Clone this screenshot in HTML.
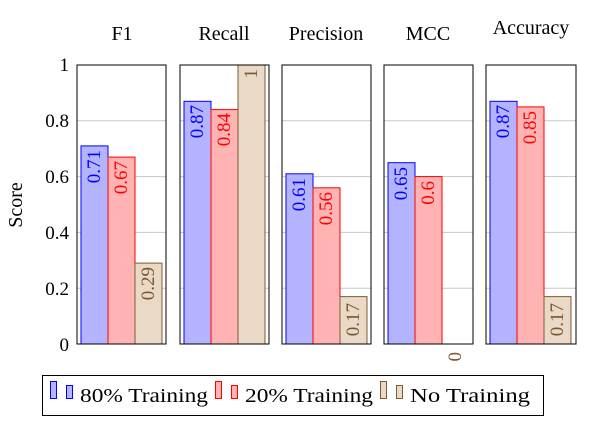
<!DOCTYPE html>
<html><head><meta charset="utf-8"><style>
html,body{margin:0;padding:0;background:#fff;}
svg{display:block;font-family:"Liberation Serif",serif;}
</style></head><body>
<svg width="603" height="424" viewBox="0 0 603 424" xmlns="http://www.w3.org/2000/svg">
<g font-size="20" text-anchor="middle" fill="#000">
<text x="122" y="40">F1</text>
<text x="224" y="40">Recall</text>
<text x="326" y="40">Precision</text>
<text x="428" y="40">MCC</text>
<text x="531" y="34">Accuracy</text>
</g>
<g font-size="19" text-anchor="end" fill="#000">
<text x="69" y="71">1</text>
<text x="69" y="127">0.8</text>
<text x="69" y="183">0.6</text>
<text x="69" y="239">0.4</text>
<text x="69" y="295">0.2</text>
<text x="69" y="351">0</text>
</g>
<text font-size="20" text-anchor="middle" transform="translate(22,205) rotate(-90)">Score</text>

<g stroke="#c8c8c8" stroke-width="1">
<path d="M77 288.2H166M77 232.4H166M77 176.6H166M77 120.8H166"/>
<path d="M180 288.2H269M180 232.4H269M180 176.6H269M180 120.8H269"/>
<path d="M282 288.2H371M282 232.4H371M282 176.6H371M282 120.8H371"/>
<path d="M384 288.2H473M384 232.4H473M384 176.6H473M384 120.8H473"/>
<path d="M486 288.2H576M486 232.4H576M486 176.6H576M486 120.8H576"/>
</g>

<g stroke-width="1">
<rect x="81" y="145.9" width="27" height="198.1" fill="#b3b3ff" stroke="#0000ff"/>
<rect x="108" y="157.1" width="27" height="186.9" fill="#ffb3b3" stroke="#ff0000"/>
<rect x="135" y="263.1" width="27" height="80.9" fill="#e9d9c6" stroke="#7f5c33"/>
<rect x="184" y="101.3" width="27" height="242.7" fill="#b3b3ff" stroke="#0000ff"/>
<rect x="211" y="109.6" width="27" height="234.4" fill="#ffb3b3" stroke="#ff0000"/>
<rect x="238" y="65" width="27" height="279" fill="#e9d9c6" stroke="#7f5c33"/>
<rect x="286" y="173.8" width="27" height="170.2" fill="#b3b3ff" stroke="#0000ff"/>
<rect x="313" y="187.8" width="27" height="156.2" fill="#ffb3b3" stroke="#ff0000"/>
<rect x="340" y="296.6" width="27" height="47.4" fill="#e9d9c6" stroke="#7f5c33"/>
<rect x="388" y="162.7" width="27" height="181.3" fill="#b3b3ff" stroke="#0000ff"/>
<rect x="415" y="176.6" width="27" height="167.4" fill="#ffb3b3" stroke="#ff0000"/>
<line x1="442" x2="469" y1="344" y2="344" stroke="#7f5c33"/>
<rect x="490" y="101.3" width="27" height="242.7" fill="#b3b3ff" stroke="#0000ff"/>
<rect x="517" y="106.9" width="27" height="237.1" fill="#ffb3b3" stroke="#ff0000"/>
<rect x="544" y="296.6" width="27" height="47.4" fill="#e9d9c6" stroke="#7f5c33"/>
</g>

<g font-size="19" text-anchor="end" dominant-baseline="central">
<text fill="#0000ff" transform="translate(94.5,150) rotate(-90)">0.71</text>
<text fill="#ff0000" transform="translate(121.5,161) rotate(-90)">0.67</text>
<text fill="#7a5630" transform="translate(148.5,267) rotate(-90)">0.29</text>
<text fill="#0000ff" transform="translate(197.5,105) rotate(-90)">0.87</text>
<text fill="#ff0000" transform="translate(224.5,113) rotate(-90)">0.84</text>
<text fill="#7a5630" transform="translate(251.5,69) rotate(-90)">1</text>
<text fill="#0000ff" transform="translate(299.5,178) rotate(-90)">0.61</text>
<text fill="#ff0000" transform="translate(326.5,192) rotate(-90)">0.56</text>
<text fill="#7a5630" transform="translate(353.5,303) rotate(-90)">0.17</text>
<text fill="#0000ff" transform="translate(401.5,167) rotate(-90)">0.65</text>
<text fill="#ff0000" transform="translate(428.5,181) rotate(-90)">0.6</text>
<text fill="#7a5630" transform="translate(455.5,352) rotate(-90)">0</text>
<text fill="#0000ff" transform="translate(503.5,105) rotate(-90)">0.87</text>
<text fill="#ff0000" transform="translate(530.5,111) rotate(-90)">0.85</text>
<text fill="#7a5630" transform="translate(557.5,303) rotate(-90)">0.17</text>
</g>

<g fill="none" stroke="#000" stroke-width="1">
<rect x="77" y="65" width="89" height="279"/>
<rect x="180" y="65" width="89" height="279"/>
<rect x="282" y="65" width="89" height="279"/>
<rect x="384" y="65" width="89" height="279"/>
<rect x="486" y="65" width="90" height="279"/>
</g>

<rect x="42.5" y="375.5" width="501" height="40" fill="#fff" stroke="#000" stroke-width="1"/>
<g stroke-width="1">
<rect x="50.5" y="381.5" width="6" height="17" fill="#b3b3ff" stroke="#0000ff"/>
<rect x="66.5" y="385.5" width="6" height="13" fill="#b3b3ff" stroke="#0000ff"/>
<rect x="215.5" y="381.5" width="6" height="17" fill="#ffb3b3" stroke="#ff0000"/>
<rect x="231.5" y="385.5" width="6" height="13" fill="#ffb3b3" stroke="#ff0000"/>
<rect x="380.5" y="381.5" width="6" height="17" fill="#e9d9c6" stroke="#7f5c33"/>
<rect x="396.5" y="385.5" width="6" height="13" fill="#e9d9c6" stroke="#7f5c33"/>
</g>
<g font-size="20" fill="#000">
<text x="80" y="402" textLength="128" lengthAdjust="spacingAndGlyphs">80% Training</text>
<text x="245" y="402" textLength="128" lengthAdjust="spacingAndGlyphs">20% Training</text>
<text x="410" y="402" textLength="120" lengthAdjust="spacingAndGlyphs">No Training</text>
</g>
</svg>
</body></html>
